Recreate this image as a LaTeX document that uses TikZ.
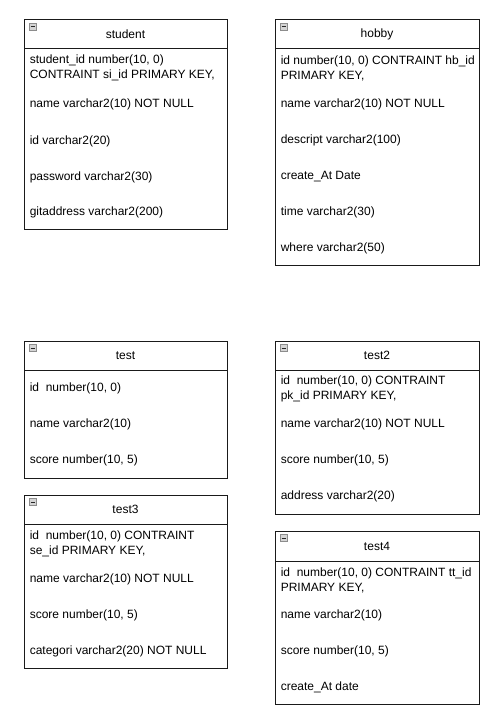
\documentclass[tikz,border=0pt]{standalone}
\usepackage{fontspec}
\setmainfont{Liberation Sans}
\definecolor{boxline}{HTML}{1A1A1A}
\definecolor{iconfill}{HTML}{D4D4D4}
\definecolor{iconline}{HTML}{8C8C8C}
\tikzset{
  tblframe/.style={draw=boxline, line width=0.75pt, fill=white},
  tbltitle/.style={inner sep=0pt, font=\fontsize{9}{11.25}\selectfont},
  tblrow/.style={inner sep=0pt, anchor=west, align=left, font=\fontsize{9}{11.25}\selectfont},
  iconbox/.style={draw=iconline, fill=iconfill, line width=0.5pt},
}
% \erbox{name}{x1}{y1}{x2}{y2}{yheader}{title}
\newcommand\erbox[7]{%
  \draw[tblframe] (#2,#3) rectangle (#4,#5);
  \draw[tblframe] (#2,#6) -- (#4,#6);
  \draw[iconbox] (#2+5,#3+3.5) rectangle (#2+12.5,#3+10.5);
  \draw[black!85, line width=0.75pt] (#2+6.5,#3+7) -- (#2+11,#3+7);
  \node[tbltitle] (#1-title) at ({(#2+#4)/2},{(#3+#6)/2}) {#7};
}
\begin{document}
\begin{tikzpicture}[x=0.75pt,y=-0.75pt]
\useasboundingbox[fill=white] (0,0) rectangle (502,713);

% student
\erbox{student}{24}{20}{227}{229}{49}{student}
\node[tblrow] (student-r1) at (29.5,67.5) {student\_id number(10, 0)\\CONTRAINT si\_id PRIMARY KEY,};
\node[tblrow] (student-r2) at (29.5,104.5) {name varchar2(10) NOT NULL};
\node[tblrow] (student-r3) at (29.5,141.5) {id varchar2(20)};
\node[tblrow] (student-r4) at (29.5,177.5) {password varchar2(30)};
\node[tblrow] (student-r5) at (29.5,212.5) {gitaddress varchar2(200)};

% hobby
\erbox{hobby}{275}{20}{479}{265}{49}{hobby}
\node[tblrow] (hobby-r1) at (280.5,68) {id number(10, 0) CONTRAINT hb\_id\\PRIMARY KEY,};
\node[tblrow] (hobby-r2) at (280.5,104.5) {name varchar2(10) NOT NULL};
\node[tblrow] (hobby-r3) at (280.5,140.5) {descript varchar2(100)};
\node[tblrow] (hobby-r4) at (280.5,176.5) {create\_At Date};
\node[tblrow] (hobby-r5) at (280.5,212.5) {time varchar2(30)};
\node[tblrow] (hobby-r6) at (280.5,248.5) {where varchar2(50)};

% test
\erbox{test}{24}{341}{227}{478}{370}{test}
\node[tblrow] (test-r1) at (29.5,388.5) {id\ \ number(10, 0)};
\node[tblrow] (test-r2) at (29.5,424.5) {name varchar2(10)};
\node[tblrow] (test-r3) at (29.5,460.5) {score number(10, 5)};

% test3
\erbox{test3}{24}{495}{227}{668}{524}{test3}
\node[tblrow] (test3-r1) at (29.5,544) {id\ \ number(10, 0) CONTRAINT\\se\_id PRIMARY KEY,};
\node[tblrow] (test3-r2) at (29.5,579.5) {name varchar2(10) NOT NULL};
\node[tblrow] (test3-r3) at (29.5,615.5) {score number(10, 5)};
\node[tblrow] (test3-r4) at (29.5,651.5) {categori varchar2(20) NOT NULL};

% test2
\erbox{test2}{275}{341}{479}{514}{370}{test2}
\node[tblrow] (test2-r1) at (280.5,388.5) {id\ \ number(10, 0) CONTRAINT\\pk\_id PRIMARY KEY,};
\node[tblrow] (test2-r2) at (280.5,424.5) {name varchar2(10) NOT NULL};
\node[tblrow] (test2-r3) at (280.5,460.5) {score number(10, 5)};
\node[tblrow] (test2-r4) at (280.5,496.5) {address varchar2(20)};

% test4
\erbox{test4}{275}{531}{479}{704}{561}{test4}
\node[tblrow] (test4-r1) at (280.5,580) {id\ \ number(10, 0) CONTRAINT tt\_id\\PRIMARY KEY,};
\node[tblrow] (test4-r2) at (280.5,615.5) {name varchar2(10)};
\node[tblrow] (test4-r3) at (280.5,651.5) {score number(10, 5)};
\node[tblrow] (test4-r4) at (280.5,687.5) {create\_At date};
\end{tikzpicture}
\end{document}
